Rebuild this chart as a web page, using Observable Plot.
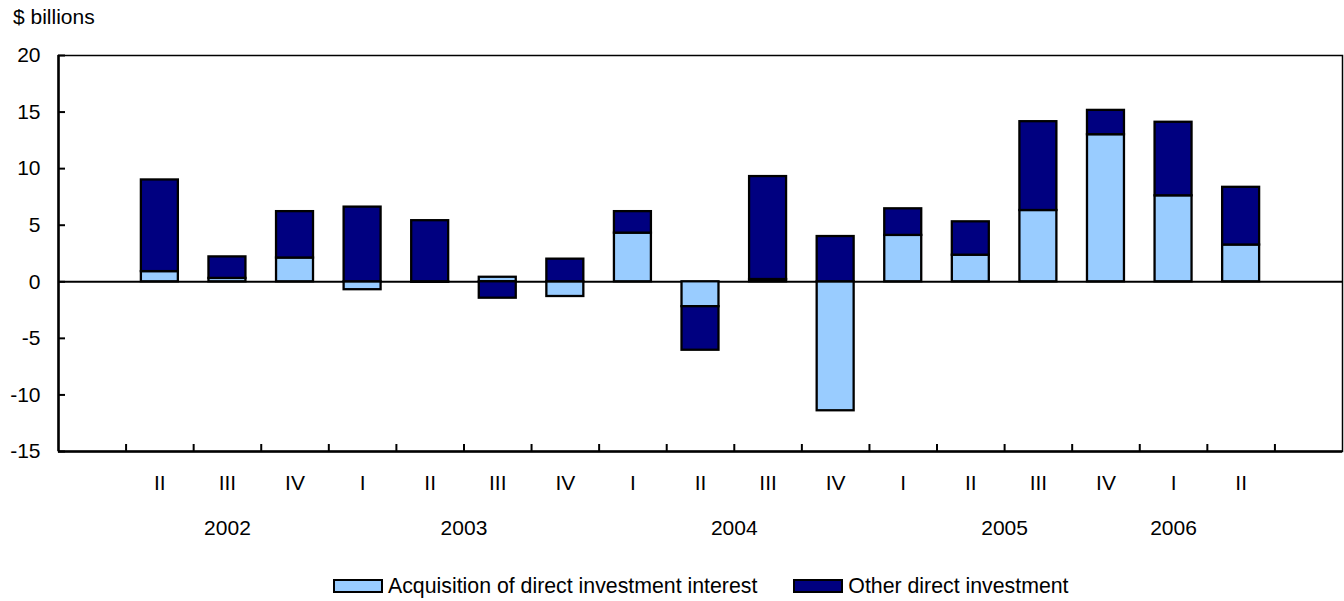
<!DOCTYPE html>
<html><head><meta charset="utf-8">
<script src="https://cdn.jsdelivr.net/npm/d3@7"></script>
<script src="https://cdn.jsdelivr.net/npm/@observablehq/plot@0.6"></script>
<style>
body{margin:0;background:#fff;font-family:"Liberation Sans",Arial,Helvetica,sans-serif;color:#000;}
#wrap{position:relative;width:1344px;height:601px;overflow:hidden;}
#title{position:absolute;left:13px;top:5px;font-size:21px;line-height:24px;}
#chart{position:absolute;left:0;top:30px;}
#legend{position:absolute;left:333px;top:574px;display:flex;align-items:center;font-size:21.3px;line-height:24px;white-space:nowrap;}
.item{display:flex;align-items:center;}
.item + .item{margin-left:36px;}
.sw{width:46px;height:10px;border:2px solid #000;margin-right:5px;}
</style></head>
<body>
<div id="wrap">
  <div id="title">$ billions</div>
  <div id="chart"></div>
  <div id="legend"></div>
</div>
<script>
const quarters = ["II","III","IV","I","II","III","IV","I","II","III","IV","I","II","III","IV","I","II"];
const acquisition = [0.9, 0.3, 2.1, -0.7, -0.05, 0.4, -1.3, 4.3, -2.2, 0.2, -11.4, 4.1, 2.35, 6.3, 13.0, 7.6, 3.25];
const other = [8.1, 1.9, 4.1, 6.6, 5.4, -1.45, 2.0, 1.9, -3.85, 9.1, 4.0, 2.35, 2.95, 7.85, 2.15, 6.5, 5.1];
const years = ["2002","2003","2004","2005","2006"];
const yearPos = [2.5, 6, 10, 14, 16.5];
const series = ["Acquisition of direct investment interest","Other direct investment"];
const colors = ["#99CCFF","#000080"];
const yTicks = [-15,-10,-5,0,5,10,15,20];

const rows = [];
quarters.forEach((q, i) => {
  rows.push({slot: i + 1, series: series[0], value: acquisition[i]});
  rows.push({slot: i + 1, series: series[1], value: other[i]});
});
const xTicks = quarters.map((q, i) => i + 1).concat([quarters.length + 1]);

const chart = Plot.plot({
  width: 1344, height: 530,
  marginTop: 25, marginBottom: 109, marginLeft: 58, marginRight: 2,
  style: {fontFamily: "'Liberation Sans', Arial, Helvetica, sans-serif", fontSize: "21px", color: "#000", background: "transparent"},
  x: {domain: [0, quarters.length + 2], axis: null},
  y: {domain: [-15, 20], axis: null},
  color: {domain: series, range: colors},
  marks: [
    Plot.frame({stroke: "#000", strokeWidth: 1.5}),
    Plot.ruleY([0], {stroke: "#000", strokeWidth: 2}),
    Plot.rectY(rows, {x: "slot", interval: 1, y: "value", fill: "series", stroke: "#000", strokeWidth: 2.3, insetLeft: 15.3, insetRight: 15.3}),
    Plot.axisY({ticks: yTicks, tickSize: 0, tickPadding: 18, fontSize: 21, label: null, tickFormat: d => String(d)}),
    Plot.axisY({ticks: yTicks, tickSize: -7, tickFormat: () => "", strokeWidth: 2, label: null}),
    Plot.axisX({ticks: xTicks, tickSize: -7, tickFormat: () => "", strokeWidth: 2, label: null}),
    Plot.ruleX([0], {stroke: "#000", strokeWidth: 2.5}),
    Plot.ruleY([-15], {stroke: "#000", strokeWidth: 2.5}),
    Plot.text(quarters, {x: (d, i) => i + 1.5, frameAnchor: "bottom", dy: 38, text: d => d, fontSize: 21}),
    Plot.text(years, {x: (d, i) => yearPos[i], frameAnchor: "bottom", dy: 83, text: d => d, fontSize: 21})
  ]
});
document.getElementById("chart").appendChild(chart);

const legend = document.getElementById("legend");
series.forEach((s, i) => {
  const item = document.createElement("div");
  item.className = "item";
  const sw = document.createElement("span");
  sw.className = "sw";
  sw.style.background = colors[i];
  const label = document.createElement("span");
  label.textContent = s;
  item.appendChild(sw);
  item.appendChild(label);
  legend.appendChild(item);
});
</script>
</body></html>
